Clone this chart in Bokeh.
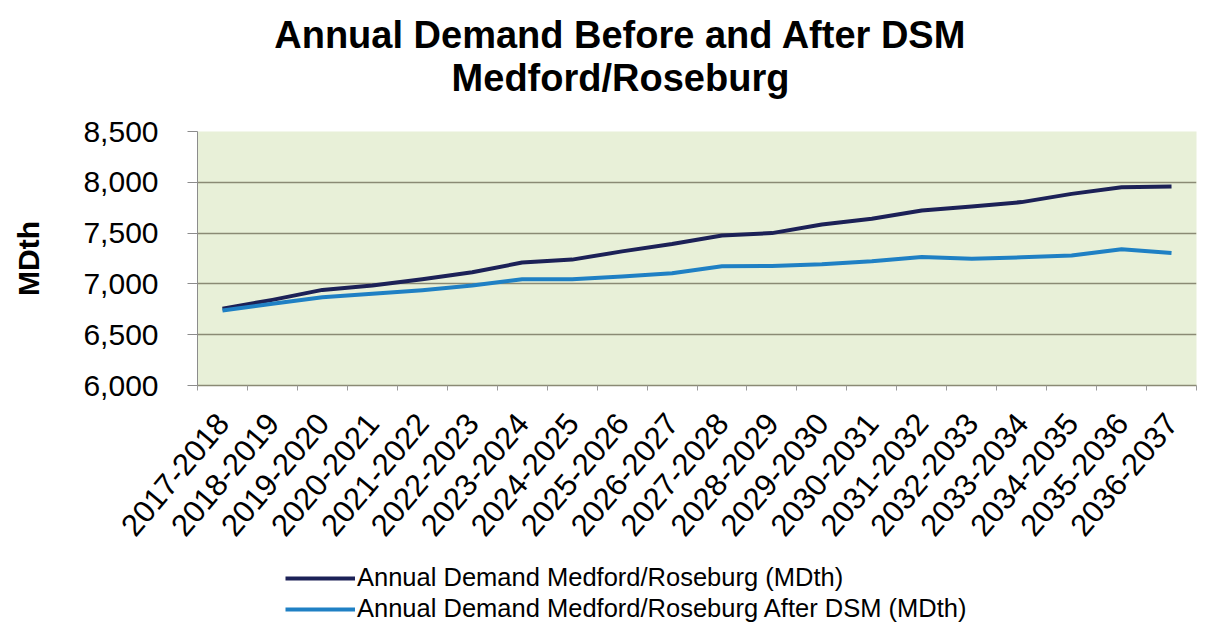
import math
from bokeh.plotting import figure
from bokeh.layouts import column
from bokeh.models import (Range1d, FixedTicker, SingleIntervalTicker, NumeralTickFormatter,
                          Label, Legend, LegendItem)
from bokeh.embed import file_html
from bokeh.resources import INLINE

# ---------------- data ----------------
years = ["2017-2018", "2018-2019", "2019-2020", "2020-2021", "2021-2022",
         "2022-2023", "2023-2024", "2024-2025", "2025-2026", "2026-2027",
         "2027-2028", "2028-2029", "2029-2030", "2030-2031", "2031-2032",
         "2032-2033", "2033-2034", "2034-2035", "2035-2036", "2036-2037"]
before_dsm = [6755, 6843, 6941, 6984, 7045, 7114, 7210, 7239, 7320, 7392,
              7476, 7500, 7585, 7641, 7722, 7761, 7805, 7886, 7951, 7958]
after_dsm = [6739, 6804, 6869, 6902, 6938, 6984, 7046, 7046, 7072, 7105,
             7173, 7176, 7193, 7222, 7265, 7248, 7262, 7279, 7341, 7304]
y_min, y_max, y_step = 6000, 8500, 500
title_lines = ["Annual Demand Before and After DSM", "Medford/Roseburg"]
y_label = "MDth"
series_names = ["Annual Demand Medford/Roseburg (MDth)",
                "Annual Demand Medford/Roseburg After DSM (MDth)"]

FONT = "Liberation Sans"
W = 1214
DARK = "#1c2157"
LIGHT = "#1f80c4"
x_pos = [i + 0.5 for i in range(len(years))]


def blank_fig(h):
    f = figure(width=W, height=h, title=None, x_axis_type=None, y_axis_type=None,
               x_range=Range1d(0, 1), y_range=Range1d(0, 1),
               output_backend="svg", toolbar_location=None,
               min_border=0, min_border_left=0, min_border_right=0,
               min_border_top=0, min_border_bottom=0)
    f.outline_line_color = None
    f.background_fill_color = "white"
    f.border_fill_color = "white"
    f.grid.visible = False
    return f


# ---------------- title block ----------------
t = blank_fig(100)
for txt, yy in zip(title_lines, [66, 23]):
    t.add_layout(Label(x=423, y=yy, x_units="screen", y_units="screen", text=txt,
                       text_align="center", text_baseline="alphabetic",
                       text_font=FONT, text_font_style="bold",
                       text_font_size="38px", text_color="black"))

# ---------------- main chart ----------------
p = figure(width=W, height=455, title=None,
           x_range=Range1d(0, len(years)), y_range=Range1d(y_min, y_max),
           output_backend="svg", toolbar_location=None,
           min_border_left=197, min_border_right=18,
           min_border_top=31, min_border_bottom=170)
p.background_fill_color = "#e8f0d8"
p.border_fill_color = "white"
p.outline_line_color = None

p.xgrid.visible = False
p.ygrid.grid_line_color = "#8a8a74"
p.ygrid.grid_line_width = 1.5

xa = p.xaxis[0]
xa.ticker = FixedTicker(ticks=x_pos, minor_ticks=list(range(len(years) + 1)))
xa.major_label_overrides = {x: lab for x, lab in zip(x_pos, years)}
xa.major_label_orientation = math.radians(50)
xa.major_label_text_font = FONT
xa.major_label_text_font_size = "31px"
xa.major_label_text_color = "black"
xa.major_label_standoff = 27
xa.major_tick_out = 0
xa.major_tick_in = 0
xa.minor_tick_out = 5
xa.minor_tick_in = 0
xa.minor_tick_line_color = "#9a9a9a"
xa.axis_line_color = "#8a8a74"
xa.axis_line_width = 1.5

ya = p.yaxis[0]
ya.ticker = SingleIntervalTicker(interval=y_step, num_minor_ticks=0)
ya.formatter = NumeralTickFormatter(format="0,0")
ya.major_label_text_font = FONT
ya.major_label_text_font_size = "30px"
ya.major_label_text_color = "black"
ya.major_label_standoff = 29
ya.major_tick_out = 10
ya.major_tick_in = 0
ya.major_tick_line_color = "#8c8c8c"
ya.axis_line_color = "#8c8c8c"
ya.axis_label = y_label
ya.axis_label_text_font = FONT
ya.axis_label_text_font_style = "bold"
ya.axis_label_text_font_size = "30px"
ya.axis_label_text_color = "black"
ya.axis_label_standoff = 35

p.line(x_pos, before_dsm, line_color=DARK, line_width=4, line_join="round")
p.line(x_pos, after_dsm, line_color=LIGHT, line_width=4, line_join="round")

# ---------------- legend block ----------------
# the same series are drawn here (outside this block's visible range) only to feed the legend
q = blank_fig(70)
l1 = q.line(x_pos, before_dsm, line_color=DARK, line_width=4)
l2 = q.line(x_pos, after_dsm, line_color=LIGHT, line_width=4)
legend = Legend(items=[LegendItem(label=series_names[0], renderers=[l1]),
                       LegendItem(label=series_names[1], renderers=[l2])],
                location=(88, 2), orientation="vertical",
                background_fill_alpha=0, border_line_color=None,
                label_text_font=FONT, label_text_font_size="25.5px",
                label_text_color="black",
                glyph_width=70, glyph_height=26, label_height=26,
                label_standoff=2, spacing=2, padding=0, margin=0)
q.add_layout(legend, "center")

layout = column(t, p, q, spacing=0)
open("out.html", "w").write(file_html(layout, INLINE))
